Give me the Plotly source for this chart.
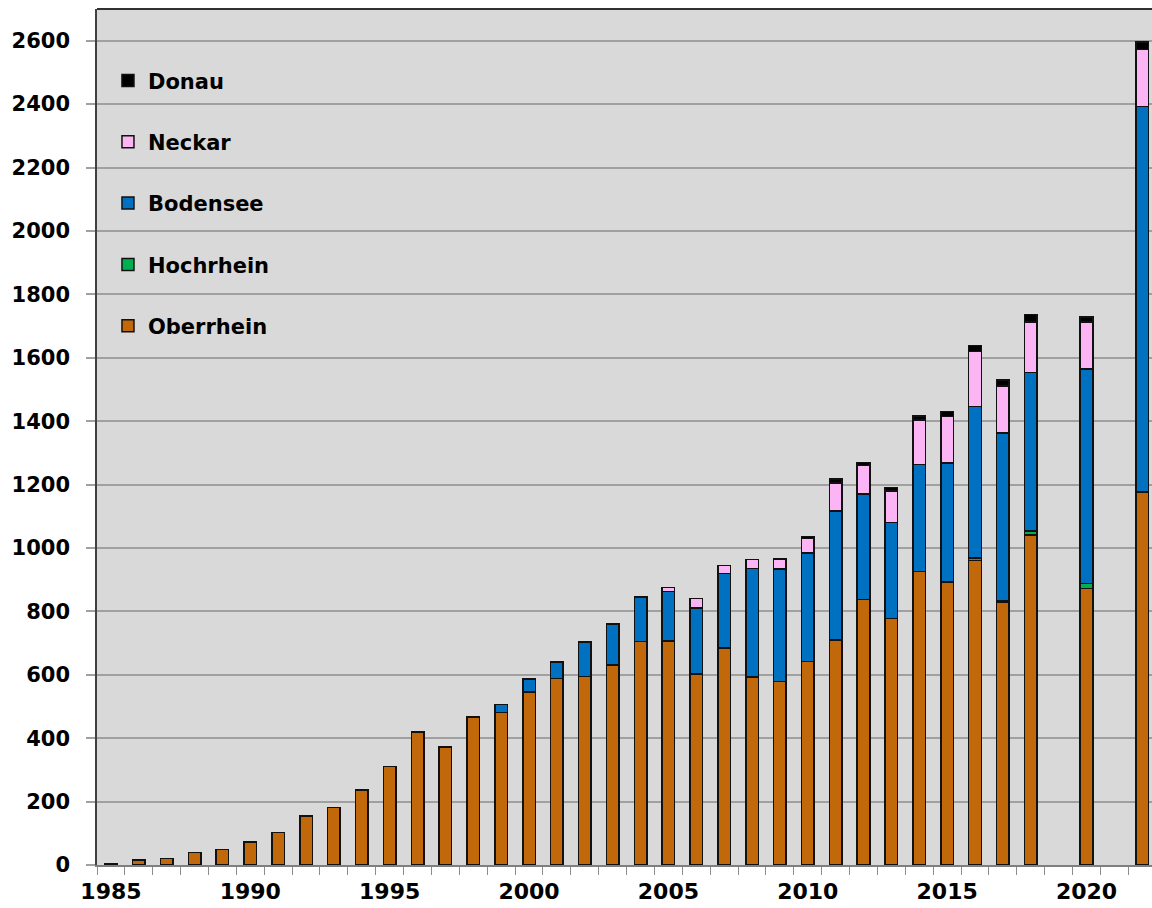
import plotly.graph_objects as go

years = [1985, 1986, 1987, 1988, 1989, 1990, 1991, 1992, 1993, 1994, 1995, 1996, 1997, 1998,
         1999, 2000, 2001, 2002, 2003, 2004, 2005, 2006, 2007, 2008, 2009, 2010, 2011, 2012,
         2013, 2014, 2015, 2016, 2017, 2018, 2020, 2022]
oberrhein = [5, 16, 20, 39, 49, 73, 102, 155, 182, 236, 310, 419, 373, 465,
             481, 545, 588, 595, 631, 705, 706, 603, 684, 593, 579, 642, 709, 838,
             777, 926, 892, 960, 829, 1041, 872, 1175]
hochrhein = [0, 0, 0, 0, 0, 0, 0, 0, 0, 0, 0, 0, 0, 0,
             0, 0, 0, 0, 0, 0, 0, 0, 0, 0, 0, 0, 0, 0,
             0, 0, 0, 8, 6, 12, 16, 3]
bodensee = [0, 0, 0, 0, 0, 0, 0, 0, 0, 0, 0, 0, 0, 3,
            26, 41, 52, 108, 129, 138, 156, 207, 236, 343, 354, 342, 408, 333,
            304, 338, 376, 479, 527, 500, 677, 1215]
neckar = [0, 0, 0, 0, 0, 0, 0, 0, 0, 0, 0, 0, 0, 0,
          0, 0, 0, 0, 0, 0, 14, 31, 24, 27, 32, 46, 88, 89,
          99, 140, 147, 172, 149, 160, 148, 180]
donau = [0, 0, 0, 0, 0, 0, 0, 0, 0, 0, 0, 0, 0, 0,
         0, 0, 0, 0, 0, 2, 0, 0, 0, 0, 0, 6, 13, 10,
         11, 13, 15, 20, 19, 23, 15, 23]
x_ticks = [1985, 1990, 1995, 2000, 2005, 2010, 2015, 2020]

series = [
    ("Oberrhein", oberrhein, "#c0680a"),
    ("Hochrhein", hochrhein, "#00b050"),
    ("Bodensee", bodensee, "#0070c0"),
    ("Neckar", neckar, "#fbb4f4"),
    ("Donau", donau, "#000000"),
]

FONT = "DejaVu Sans"

fig = go.Figure()
for i, (name, vals, col) in enumerate(series):
    fig.add_trace(go.Bar(
        x=years, y=vals, name=name, legendgroup=name,
        legendrank=len(series) - i,
        marker=dict(color=col, line=dict(color="#111111", width=1.5)),
        width=0.45,
    ))

fig.update_layout(
    barmode="stack",
    width=1152, height=908,
    margin=dict(l=97, r=0, t=9, b=43),
    paper_bgcolor="white",
    plot_bgcolor="#d9d9d9",
    font=dict(family=FONT, size=21, color="black", weight="bold"),
    legend=dict(
        x=0.0104, y=0.940, xanchor="left", yanchor="top",
        bgcolor="rgba(0,0,0,0)", tracegroupgap=31,
        font=dict(family=FONT, size=21, color="black", weight="bold"),
        traceorder="grouped",
    ),
    xaxis=dict(
        range=[1984.5, 2022.35],
        tickmode="array",
        tickvals=x_ticks,
        ticks="", showgrid=False, zeroline=False,
        showline=True, linecolor="#7f7f7f", linewidth=1.5,
        ticklabelstandoff=6,
        tickfont=dict(family=FONT, size=22, weight="bold"),
        minor=dict(tick0=1984.5, dtick=1, ticks="outside", ticklen=8,
                   tickcolor="#8c8c8c", tickwidth=1, showgrid=False),
    ),
    yaxis=dict(
        range=[0, 2700],
        tickmode="linear", tick0=0, dtick=200,
        ticks="outside", ticklen=9, tickcolor="#a0a0a0", tickwidth=1.5,
        showgrid=True, gridcolor="#a0a0a0", gridwidth=1.5,
        zeroline=False,
        showline=True, linecolor="#404040", linewidth=1.5,
        ticklabelstandoff=12,
        tickfont=dict(family=FONT, size=21, weight="bold"),
    ),
)

fig.add_shape(type="line", xref="paper", yref="paper", x0=0, x1=1, y0=1, y1=1,
              line=dict(color="#303030", width=2))

fig.write_html(
    "out.html",
    config={"displayModeBar": False},
    post_script="document.body.style.margin='0';document.body.style.overflow='hidden';",
)
